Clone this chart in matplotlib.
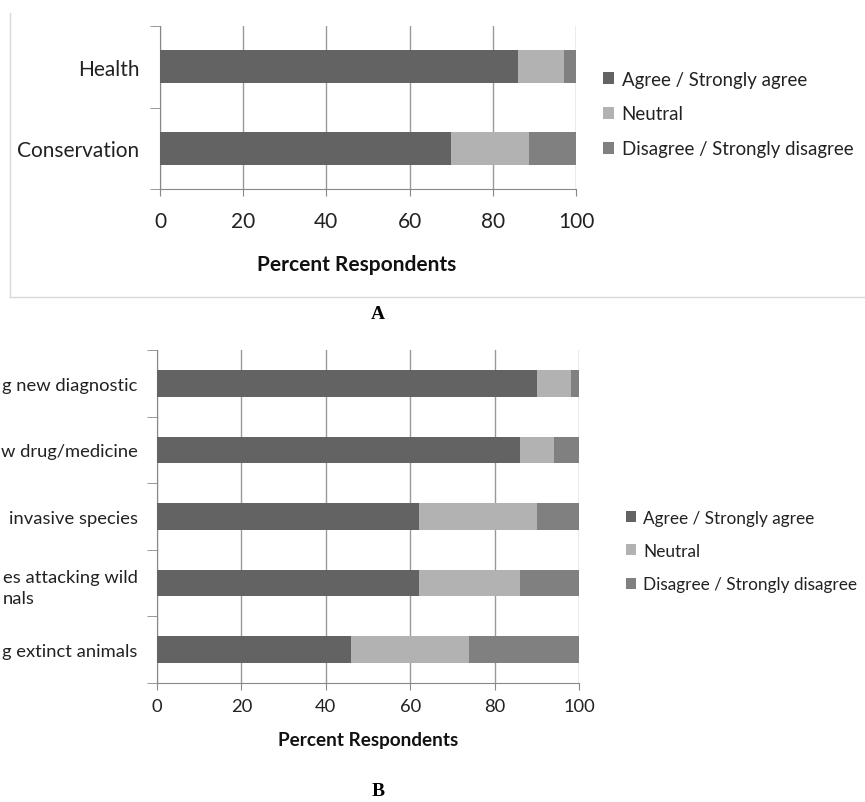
import matplotlib.pyplot as plt
from matplotlib.lines import Line2D

plt.rcParams["font.family"] = ["Lato", "DejaVu Sans"]

# Panel A data
cats_a = ["Health", "Conservation"]
agree_a = [86, 70]
neutral_a = [11, 18.7]
disagree_a = [3, 11.3]

# Panel B data (labels are cut at the left edge in the source figure)
cats_b = [
    "g new diagnostic",
    "w drug/medicine",
    "invasive species",
    "es attacking wild\nnals",
    "g extinct animals",
]
agree_b = [90, 86, 62, 62, 46]
neutral_b = [8, 8, 28, 24, 28]
disagree_b = [2, 6, 10, 14, 26]

series_names = ["Agree / Strongly agree", "Neutral", "Disagree / Strongly disagree"]
colors = ["#636363", "#b2b2b2", "#808080"]

W, H = 865, 803
fig = plt.figure(figsize=(W / 100, H / 100), dpi=100)


def px_axes(left, top, right, bottom):
    return fig.add_axes([left / W, 1 - bottom / H, (right - left) / W, (bottom - top) / H])


def draw_panel(ax, cats, vals, fs, tick_pad, label_xy, label_fs, legend_xy, legend_fs, rowgap):
    n = len(cats)
    pos = list(range(n))
    left = [0] * n
    handles = []
    for v, c, name in zip(vals, colors, series_names):
        h = ax.barh(pos, v, left=left, height=0.4, color=c, label=name, zorder=3)
        handles.append(h)
        left = [a + b for a, b in zip(left, v)]
    ax.set_xlim(0, 100)
    ax.set_ylim(n - 0.5, -0.5)
    ax.set_xticks([0, 20, 40, 60, 80, 100])
    ax.set_yticks(pos)
    ax.set_yticklabels(cats, fontsize=fs, color="#222222", multialignment="left",
                       linespacing=1.45)
    ax.set_yticks([i - 0.5 for i in range(n + 1)], minor=True)
    ax.tick_params(axis="y", which="major", length=0, pad=tick_pad)
    ax.tick_params(axis="y", which="minor", length=7, color="#888888", direction="out")
    ax.tick_params(axis="x", length=5, color="#888888", labelsize=fs, labelcolor="#222222",
                   pad=label_xy[2])
    for s in ["top", "right"]:
        ax.spines[s].set_visible(False)
    for s in ["left", "bottom"]:
        ax.spines[s].set_color("#888888")
    ax.grid(axis="x", color="#999999", lw=1, zorder=0)
    ax.set_xlabel("Percent Respondents", fontsize=label_fs, fontweight="bold", color="#111111")
    ax.xaxis.set_label_coords(label_xy[0], label_xy[1])
    ax.xaxis.label.set_va("center")
    fig.legend(handles=handles, loc="center left", bbox_to_anchor=legend_xy,
               frameon=False, fontsize=legend_fs, handlelength=0.6, handleheight=0.6,
               handletextpad=0.4, labelspacing=rowgap, borderpad=0, borderaxespad=0,
               labelcolor="#222222")


ax_a = px_axes(160, 27, 576, 190)
draw_panel(ax_a, cats_a, [agree_a, neutral_a, disagree_a], 15, 15,
           ((357 - 160) / 416, (190 - 265) / 163, 11), 15,
           (603 / W, 1 - 115 / H), 13.4, 0.95)

ax_b = px_axes(157, 351, 579, 684)
draw_panel(ax_b, cats_b, [agree_b, neutral_b, disagree_b], 13.2, 14,
           (0.5, (684 - 741) / 333, 6), 13.6,
           (626 / W, 1 - 552 / H), 12.4, 1.0)

# frame around panel A
frame_c = "#d9d9d9"
fig.add_artist(Line2D([10 / W, 10 / W], [1 - 14 / H, 1 - 298 / H], color=frame_c, lw=1))
fig.add_artist(Line2D([10 / W, 1], [1 - 298 / H, 1 - 298 / H], color=frame_c, lw=1))

fig.text(378 / W, 1 - 315 / H, "A", fontsize=14, fontweight="bold",
         family="Liberation Serif", ha="center", va="center")
fig.text(378 / W, 1 - 792 / H, "B", fontsize=14, fontweight="bold",
         family="Liberation Serif", ha="center", va="center")

fig.savefig("out.png", dpi=100)
